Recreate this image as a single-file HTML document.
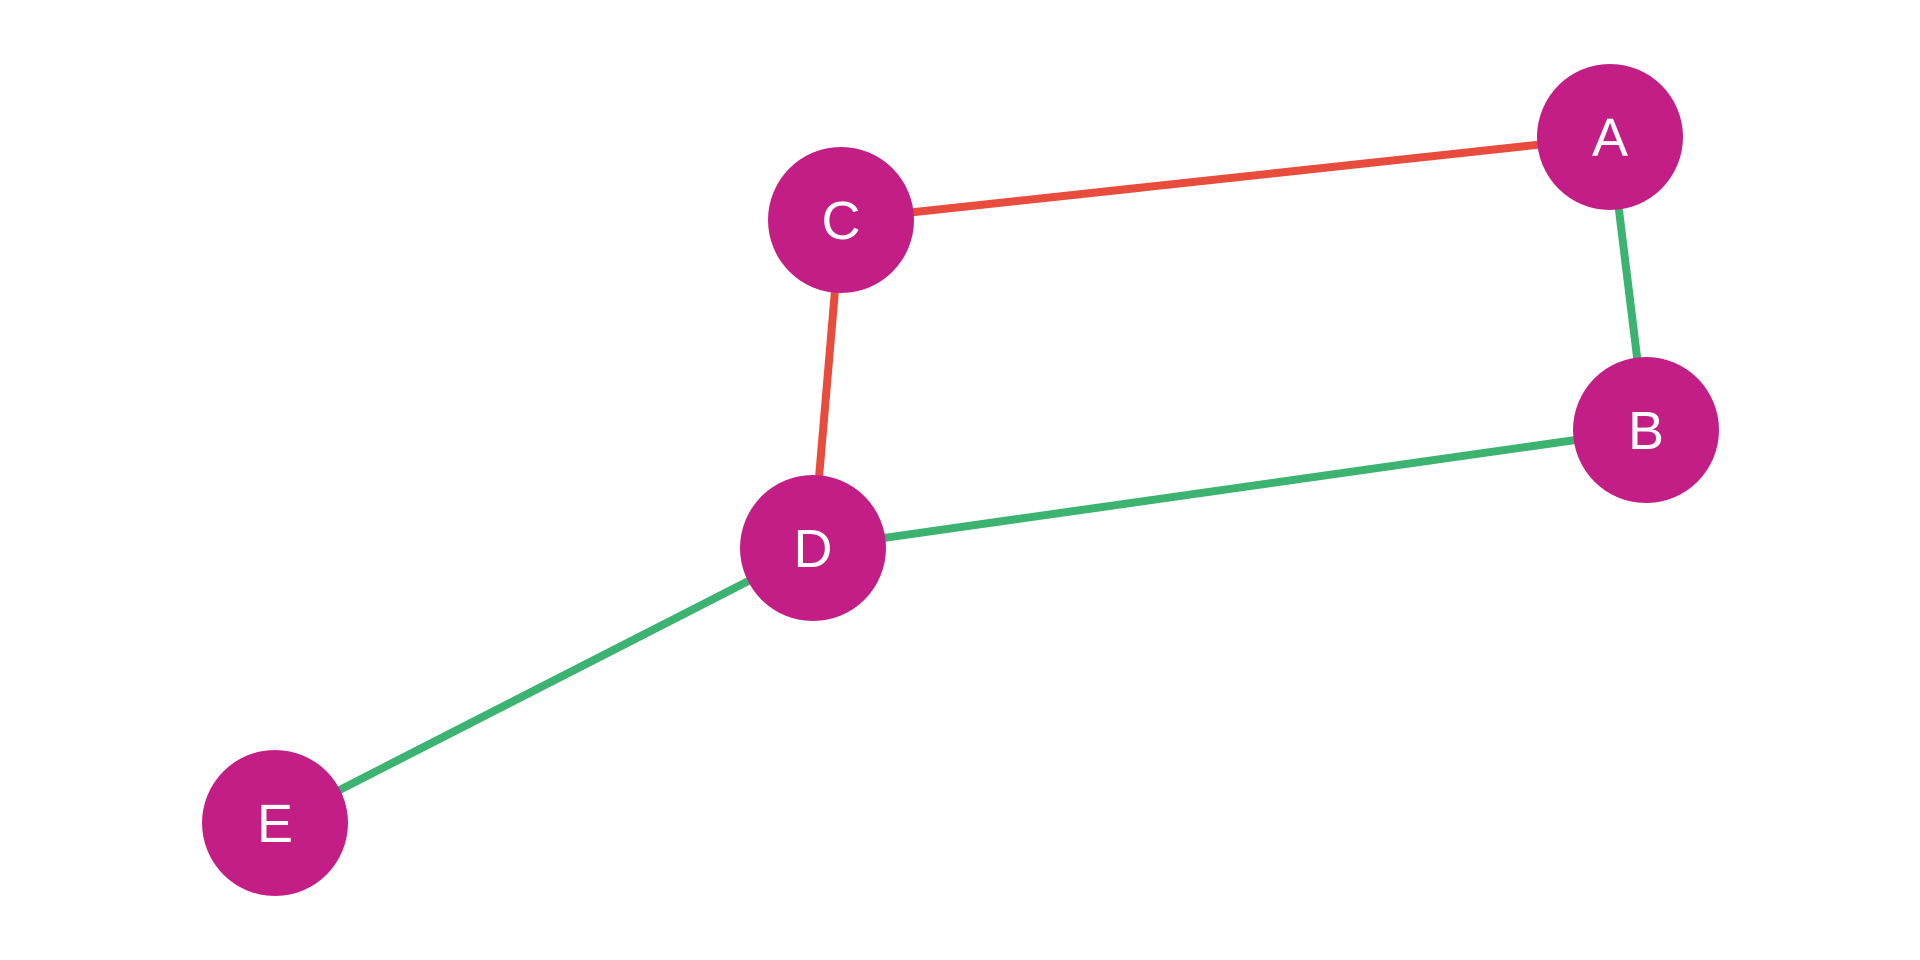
<!DOCTYPE html>
<html><head><meta charset="utf-8"><style>html,body{margin:0;padding:0;background:#fff;}svg{display:block}</style></head>
<body>
<svg width="1920" height="960" viewBox="0 0 1920 960" xmlns="http://www.w3.org/2000/svg">
<g stroke-width="8" stroke-linecap="butt">
<line x1="841" y1="220" x2="1610" y2="137" stroke="#e74c3c"/>
<line x1="841" y1="220" x2="813" y2="548" stroke="#e74c3c"/>
<line x1="1610" y1="137" x2="1646" y2="430" stroke="#3cb371"/>
<line x1="1646" y1="430" x2="813" y2="548" stroke="#3cb371"/>
<line x1="813" y1="548" x2="275" y2="823" stroke="#3cb371"/>
</g>
<g fill="#c21e86">
<circle cx="1610" cy="137" r="73"/>
<circle cx="841" cy="220" r="73"/>
<circle cx="1646" cy="430" r="73"/>
<circle cx="813" cy="548" r="73"/>
<circle cx="275" cy="823" r="73"/>
</g>
<g fill="#fff" font-family="Liberation Sans, sans-serif" font-size="54" text-anchor="middle">
<text x="1610" y="156">A</text>
<text x="841" y="239">C</text>
<text x="1646" y="449">B</text>
<text x="813" y="567">D</text>
<text x="275" y="842">E</text>
</g>
</svg>
</body></html>
